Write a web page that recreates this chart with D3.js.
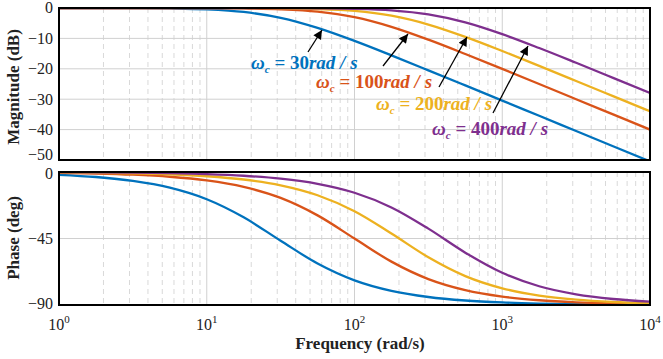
<!DOCTYPE html>
<html><head><meta charset="utf-8">
<script src="https://cdn.jsdelivr.net/npm/d3@7"></script>
<style>body{margin:0;background:#fff}svg{display:block}</style>
</head><body><svg id="c" width="663" height="359"></svg>
<script>
// frequencies (rad/s), quarter-decade samples
const freq = [1,1.778,3.162,5.623,10,17.78,31.62,56.23,100,177.8,316.2,562.3,1000,1778,3162,5623,10000];
const cutoffs = ["30","100","200","400"];
const colors = ["#0072BD","#D95319","#EDB120","#7E2F8E"];
const mag30  = [-0.005,-0.015,-0.048,-0.150,-0.458,-1.31,-3.24,-6.55,-10.83,-15.58,-20.50,-25.47,-30.46,-35.46,-40.46,-45.46,-50.46];
const mag100 = [-0.0004,-0.0014,-0.004,-0.014,-0.043,-0.135,-0.414,-1.193,-3.010,-6.193,-10.414,-15.135,-20.043,-25.014,-30.004,-35.001,-40.000];
const mag200 = [-0.0001,-0.0003,-0.0011,-0.0034,-0.011,-0.034,-0.107,-0.330,-0.969,-2.530,-5.441,-9.497,-14.150,-19.034,-23.997,-28.985,-33.981];
const mag400 = [0,-0.0001,-0.0003,-0.0009,-0.0027,-0.0086,-0.027,-0.085,-0.263,-0.783,-2.109,-4.737,-8.603,-13.173,-18.028,-22.980,-27.966];
const ph30  = [-1.91,-3.39,-6.02,-10.61,-18.43,-30.66,-46.51,-61.92,-73.30,-80.42,-84.58,-86.95,-88.28,-89.03,-89.46,-89.69,-89.83];
const ph100 = [-0.573,-1.019,-1.811,-3.218,-5.711,-10.08,-17.55,-29.35,-45.00,-60.65,-72.45,-79.92,-84.29,-86.78,-88.19,-88.98,-89.43];
const ph200 = [-0.286,-0.509,-0.906,-1.611,-2.862,-5.08,-8.99,-15.71,-26.57,-41.64,-57.68,-70.43,-78.69,-83.58,-86.38,-87.96,-88.85];
const ph400 = [-0.143,-0.255,-0.453,-0.806,-1.432,-2.546,-4.52,-8.00,-14.04,-23.97,-38.33,-54.58,-68.20,-77.32,-82.79,-85.93,-87.71];
const magTicks = [0,-10,-20,-30,-40,-50];
const phTicks = [0,-45,-90];
const xTickExp = [0,1,2,3,4];
const mags = [mag30,mag100,mag200,mag400];
const phs = [ph30,ph100,ph200,ph400];

const FONT = "'Liberation Serif', Tinos, 'Times New Roman', serif";
const svg = d3.select("#c").attr("font-family", FONT);
const x = d3.scaleLog().domain([1,1e4]).range([59,650]);
const yM = d3.scaleLinear().domain([-50,0]).range([160,8]);
const yP = d3.scaleLinear().domain([-90,0]).range([305,172]);

const defs = svg.append("defs");
defs.append("clipPath").attr("id","cm").append("rect").attr("x",59).attr("y",8).attr("width",591).attr("height",152);
defs.append("clipPath").attr("id","cp").append("rect").attr("x",59).attr("y",172).attr("width",591).attr("height",133);
defs.append("marker").attr("id","ah").attr("viewBox","0 0 10 10").attr("refX",10).attr("refY",5)
  .attr("markerWidth",11).attr("markerHeight",9).attr("markerUnits","userSpaceOnUse").attr("orient","auto")
  .append("path").attr("d","M0,0L10,5L0,10Z").attr("fill","#000");

const minor = [];
for (let e=0;e<4;e++) for (let m=2;m<=9;m++) minor.push(m*Math.pow(10,e));
const major = [10,100,1000];

function panel(y, ticks, series, clip, y0, y1) {
  const g = svg.append("g");
  g.selectAll(".mn").data(minor).enter().append("line")
    .attr("x1",d=>x(d)).attr("x2",d=>x(d)).attr("y1",y0).attr("y2",y1)
    .attr("stroke","#d9d9d9").attr("stroke-width",1).attr("stroke-dasharray","5,4");
  g.selectAll(".mj").data(major).enter().append("line")
    .attr("x1",d=>x(d)).attr("x2",d=>x(d)).attr("y1",y0).attr("y2",y1)
    .attr("stroke","#d0d0d0").attr("stroke-width",1);
  g.selectAll(".hg").data(ticks).enter().append("line")
    .attr("x1",59).attr("x2",650).attr("y1",d=>y(d)).attr("y2",d=>y(d))
    .attr("stroke","#d0d0d0").attr("stroke-width",1);
  const line = d3.line().x((d,i)=>x(freq[i])).y(d=>y(d)).curve(d3.curveMonotoneX);
  const lg = g.append("g").attr("clip-path",`url(#${clip})`);
  series.forEach((s,k)=>{
    lg.append("path").attr("d",line(s)).attr("fill","none").attr("stroke",colors[k]).attr("stroke-width",2.3);
  });
  g.append("rect").attr("x",59).attr("y",y0).attr("width",591).attr("height",y1-y0)
    .attr("fill","none").attr("stroke","#000").attr("stroke-width",2);
  const ax = d3.axisLeft(y).tickValues(ticks).tickSize(0).tickPadding(6).tickFormat(d3.format("d"));
  const a = svg.append("g").attr("transform","translate(59,0)").call(ax);
  a.attr("font-family", FONT).attr("font-size",16);
  a.select(".domain").remove();
  a.selectAll("text").attr("fill","#222");
  return a;
}
const am = panel(yM, magTicks, mags, "cm", 8, 160);
am.selectAll("text").attr("dy", d => d===-50 ? "-0.05em" : (d===0 ? "0.25em" : "0.32em"));
const ap = panel(yP, phTicks, phs, "cp", 172, 305);
ap.selectAll("text").attr("dy", d => d===-90 ? "0.2em" : (d===0 ? "0.4em" : "0.32em"));

// x tick labels
const xl = svg.append("g").selectAll("text").data(xTickExp).enter().append("text")
  .attr("x",d=>x(Math.pow(10,d))).attr("y",330).attr("text-anchor","middle")
  .attr("font-size",16).attr("fill","#222");
xl.append("tspan").text("10");
xl.append("tspan").attr("dy",-7).attr("font-size",11).text(d=>d);

svg.append("text").attr("x",360).attr("y",349).attr("text-anchor","middle")
  .attr("font-size",17).attr("font-weight","bold").attr("fill","#222").text("Frequency (rad/s)");
svg.append("text").attr("transform","translate(19,87) rotate(-90)").attr("text-anchor","middle")
  .attr("font-size",17).attr("font-weight","bold").attr("fill","#222").text("Magnitude (dB)");
svg.append("text").attr("transform","translate(19,238) rotate(-90)").attr("text-anchor","middle")
  .attr("font-size",17).attr("font-weight","bold").attr("fill","#222").text("Phase (deg)");

// annotations
const ann = [
  {k:0, tx:251, ty:69, ax:[308,52], at:[322,30]},
  {k:1, tx:316, ty:88, ax:[383,66], at:[408,34]},
  {k:2, tx:376, ty:110, ax:[439,87], at:[467,37]},
  {k:3, tx:432, ty:135, ax:[493,113], at:[528,46]}
];
ann.forEach(a=>{
  svg.append("line").attr("x1",a.ax[0]).attr("y1",a.ax[1]).attr("x2",a.at[0]).attr("y2",a.at[1])
    .attr("stroke","#000").attr("stroke-width",1.3).attr("marker-end","url(#ah)");
  const t = svg.append("text").attr("x",a.tx).attr("y",a.ty).attr("font-size",19)
    .attr("font-weight","bold").attr("fill",colors[a.k]);
  t.append("tspan").attr("font-style","italic").text("ω");
  t.append("tspan").attr("font-style","italic").attr("font-size",11).attr("dy",4).text("c");
  t.append("tspan").attr("dy",-4).text(" = " + cutoffs[a.k]);
  t.append("tspan").attr("font-style","italic").text("rad / s");
});
</script></body></html>
